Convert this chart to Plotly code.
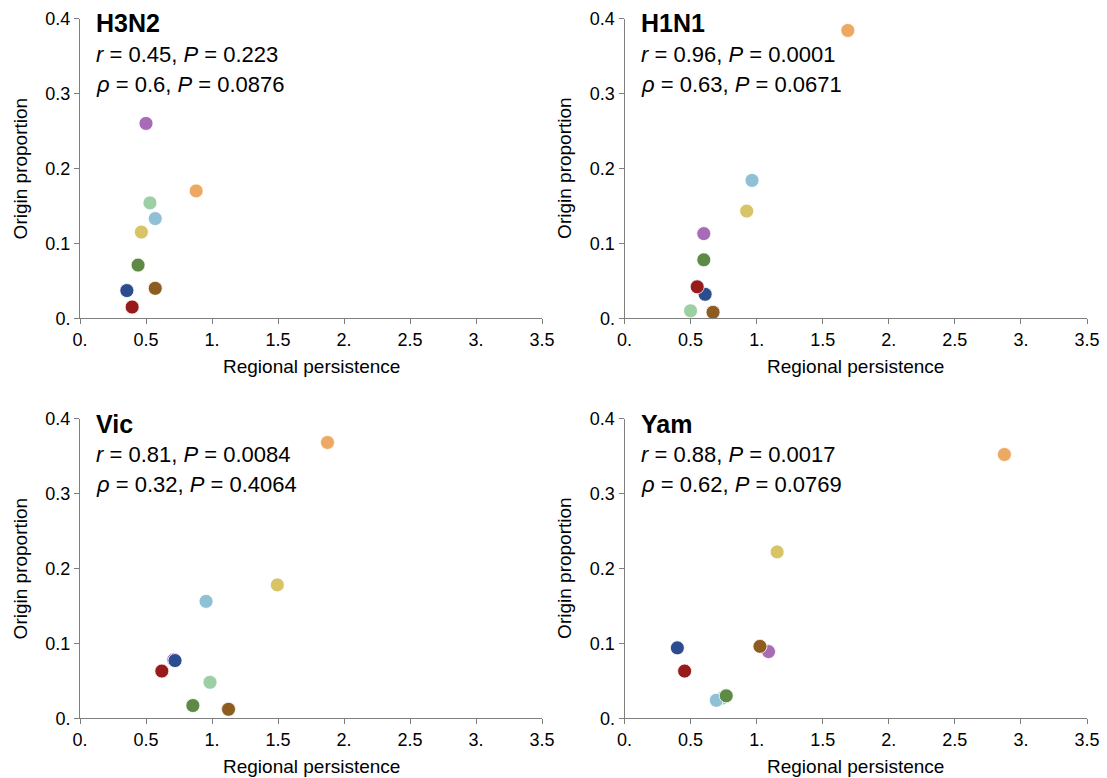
import plotly.graph_objects as go

W, H = 1107, 778

regions = ["purple", "orange", "lightgreen", "lightblue", "yellow", "green", "blue", "brown", "red"]
colors = {
    "purple": "#a86cb6",
    "orange": "#eda862",
    "lightgreen": "#9dcfa5",
    "lightblue": "#8fc0d5",
    "yellow": "#d8c466",
    "green": "#5f8a46",
    "blue": "#2b4c8e",
    "brown": "#8d5c21",
    "red": "#981b1c",
}

# values per region (same order as regions)
h3n2_x = [0.50, 0.88, 0.53, 0.57, 0.465, 0.44, 0.355, 0.57, 0.395]
h3n2_y = [0.260, 0.170, 0.154, 0.133, 0.115, 0.071, 0.037, 0.040, 0.015]

h1n1_x = [0.60, 1.69, 0.50, 0.965, 0.925, 0.60, 0.61, 0.67, 0.55]
h1n1_y = [0.113, 0.384, 0.010, 0.184, 0.143, 0.078, 0.032, 0.008, 0.042]

vic_x = [0.71, 1.875, 0.985, 0.955, 1.495, 0.855, 0.72, 1.125, 0.62]
vic_y = [0.078, 0.368, 0.048, 0.156, 0.178, 0.017, 0.077, 0.012, 0.063]

yam_x = [1.09, 2.875, 0.74, 0.695, 1.155, 0.77, 0.40, 1.025, 0.455]
yam_y = [0.089, 0.352, 0.027, 0.024, 0.222, 0.030, 0.094, 0.096, 0.063]

panels = [
    ("H3N2", "0.45", "0.223", "0.6", "0.0876", h3n2_x, h3n2_y),
    ("H1N1", "0.96", "0.0001", "0.63", "0.0671", h1n1_x, h1n1_y),
    ("Vic", "0.81", "0.0084", "0.32", "0.4064", vic_x, vic_y),
    ("Yam", "0.88", "0.0017", "0.62", "0.0769", yam_x, yam_y),
]

x_ticks = [0, 0.5, 1, 1.5, 2, 2.5, 3, 3.5]
x_ticktext = ["0.", "0.5", "1.", "1.5", "2.", "2.5", "3.", "3.5"]
y_ticks = [0, 0.1, 0.2, 0.3, 0.4]
y_ticktext = ["0.", "0.1", "0.2", "0.3", "0.4"]

FONT = "Liberation Sans, Arial, Helvetica, sans-serif"

# pixel geometry of plot areas (left, right, top, bottom)
boxes = [
    (80, 542, 18.5, 318.3),
    (624.5, 1087, 18.5, 318.3),
    (80, 542, 418.5, 718.3),
    (624.5, 1087, 418.5, 718.3),
]

fig = go.Figure()
annotations = []
for i, (name, r, p1, rho, p2, xs, ys) in enumerate(panels):
    k = "" if i == 0 else str(i + 1)
    l, rr, t, b = boxes[i]
    fig.add_trace(go.Scatter(
        x=xs, y=ys, mode="markers",
        marker=dict(size=14, color=[colors[c] for c in regions],
                    line=dict(color="white", width=0.8)),
        xaxis="x" + k, yaxis="y" + k, showlegend=False, cliponaxis=False,
        hoverinfo="skip",
    ))
    axis_common = dict(showline=True, linecolor="#7f7f7f", linewidth=1,
                       ticks="outside", ticklen=5, tickcolor="#7f7f7f", tickwidth=1,
                       showgrid=False, zeroline=False,
                       tickfont=dict(family=FONT, size=18, color="black"),
                       automargin=False)
    fig.layout["xaxis" + k] = dict(
        domain=[l / W, rr / W], range=[0, 3.5], tickvals=x_ticks, ticktext=x_ticktext,
        anchor="y" + k, **axis_common)
    fig.layout["yaxis" + k] = dict(
        domain=[1 - b / H, 1 - t / H], range=[0, 0.4], tickvals=y_ticks, ticktext=y_ticktext,
        anchor="x" + k, **axis_common)

    tx = (l + 14) / W
    annotations.append(dict(text="<b>%s</b>" % name, x=tx, y=1 - (t + 5) / H,
                            xref="paper", yref="paper", xanchor="left", yanchor="middle",
                            showarrow=False, font=dict(family=FONT, size=25, color="black")))
    annotations.append(dict(text="<i>r</i> = %s, <i>P</i> = %s" % (r, p1), x=tx, y=1 - (t + 36) / H,
                            xref="paper", yref="paper", xanchor="left", yanchor="middle",
                            showarrow=False, font=dict(family=FONT, size=22, color="black")))
    annotations.append(dict(text="<i>ρ</i> = %s, <i>P</i> = %s" % (rho, p2), x=tx, y=1 - (t + 66) / H,
                            xref="paper", yref="paper", xanchor="left", yanchor="middle",
                            showarrow=False, font=dict(family=FONT, size=22, color="black")))
    # axis titles
    annotations.append(dict(text="Regional persistence", x=(l + rr) / 2 / W, y=1 - (b + 48.5) / H,
                            xref="paper", yref="paper", xanchor="center", yanchor="middle",
                            showarrow=False, font=dict(family=FONT, size=19, color="black")))
    annotations.append(dict(text="Origin proportion", x=(l - 60) / W, y=1 - (t + b) / 2 / H,
                            xref="paper", yref="paper", xanchor="center", yanchor="middle",
                            textangle=-90,
                            showarrow=False, font=dict(family=FONT, size=19, color="black")))

fig.update_layout(
    width=W, height=H, margin=dict(l=0, r=0, t=0, b=0),
    paper_bgcolor="white", plot_bgcolor="white",
    annotations=annotations,
    font=dict(family=FONT, color="black"),
)

fig.write_html("out.html", config={"displayModeBar": False})
